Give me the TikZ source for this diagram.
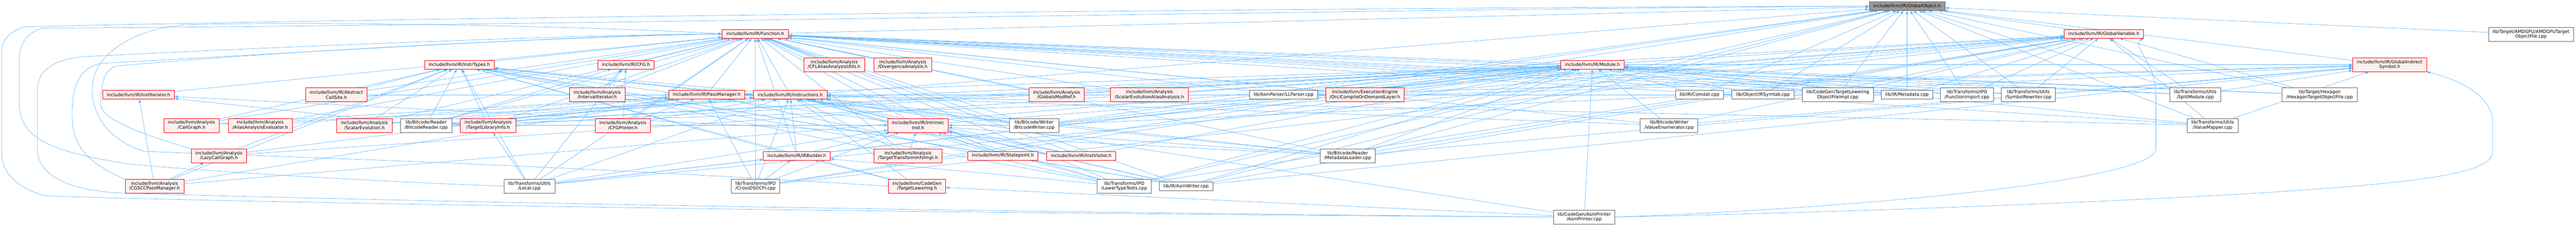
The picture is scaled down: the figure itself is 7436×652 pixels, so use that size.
\documentclass[tikz,border=0pt]{standalone}
\usepackage{fontspec}
\setmainfont{DejaVu Sans}
\usetikzlibrary{arrows.meta,backgrounds}
\definecolor{edgec}{HTML}{63B8FF}
\definecolor{redfill}{HTML}{FFF0F0}
\definecolor{rootfill}{HTML}{999999}
\definecolor{grayb}{HTML}{666666}
\tikzset{
  base/.style={draw, line width=1pt, inner xsep=12pt, inner ysep=2pt, align=center,
    font=\fontsize{12.87}{14.4}\selectfont, minimum height=25pt},
  trunc/.style={base, draw=red, fill=redfill},
  leaf/.style={base, draw=grayb, fill=white},
  root/.style={base, draw=grayb, fill=rootfill},
  two/.style={minimum height=40pt},
  edge/.style={draw=edgec, line width=1pt, -{Triangle[length=10pt,width=7pt]}}
}
\begin{document}
\begin{tikzpicture}[x=1pt,y=1pt]
\useasboundingbox (0,0) rectangle (7436,-652);
\node[root] (G) at (5505,-18) {include/llvm/IR/GlobalObject.h};
\node[trunc] (F) at (2180,-98) {include/llvm/IR/Function.h};
\node[trunc] (GV) at (6073,-98) {include/llvm/IR/GlobalVariable.h};
\node[leaf,two] (AMD) at (7306,-99) {lib/Target/AMDGPU/AMDGPUTarget\\ObjectFile.cpp};
\node[trunc] (IT) at (1326,-187) {include/llvm/IR/InstrTypes.h};
\node[trunc] (CFG) at (1807,-187) {include/llvm/IR/CFG.h};
\node[trunc,two] (CFL) at (2408,-187) {include/llvm/Analysis\\/CFLAliasAnalysisUtils.h};
\node[trunc,two] (DA) at (2606,-187) {include/llvm/Analysis\\/DivergenceAnalysis.h};
\node[trunc] (M) at (4597,-187) {include/llvm/IR/Module.h};
\node[trunc,two] (GIS) at (6898,-187) {include/llvm/IR/GlobalIndirect\\Symbol.h};
\node[trunc] (II) at (400,-274) {include/llvm/IR/InstIterator.h};
\node[trunc,two] (ACS) at (971,-274) {include/llvm/IR/Abstract\\CallSite.h};
\node[trunc,two] (IntI) at (1724,-274) {include/llvm/Analysis\\/IntervalIterator.h};
\node[trunc] (PM) at (2040,-274) {include/llvm/IR/PassManager.h};
\node[trunc] (Ins) at (2281,-274) {include/llvm/IR/Instructions.h};
\node[trunc,two] (GMR) at (3050,-274) {include/llvm/Analysis\\/GlobalsModRef.h};
\node[trunc,two] (SEAA) at (3318,-274) {include/llvm/Analysis\\/ScalarEvolutionAliasAnalysis.h};
\node[leaf] (LLP) at (3705,-274) {lib/AsmParser/LLParser.cpp};
\node[trunc,two] (COD) at (3940,-274) {include/llvm/ExecutionEngine\\/Orc/CompileOnDemandLayer.h};
\node[leaf] (Com) at (4906,-274) {lib/IR/Comdat.cpp};
\node[leaf] (IRS) at (5089,-274) {lib/Object/IRSymtab.cpp};
\node[leaf,two] (TLOF) at (5305,-274) {lib/CodeGen/TargetLowering\\ObjectFileImpl.cpp};
\node[leaf] (Meta) at (5505,-274) {lib/IR/Metadata.cpp};
\node[leaf,two] (FI) at (5678,-274) {lib/Transforms/IPO\\/FunctionImport.cpp};
\node[leaf,two] (SR) at (5855,-274) {lib/Transforms/Utils\\/SymbolRewriter.cpp};
\node[leaf,two] (SM) at (6337,-274) {lib/Transforms/Utils\\/SplitModule.cpp};
\node[leaf,two] (Hex) at (6696,-274) {lib/Target/Hexagon\\/HexagonTargetObjectFile.cpp};
\node[trunc,two] (CG) at (553,-362) {include/llvm/Analysis\\/CallGraph.h};
\node[trunc,two] (AAE) at (751,-362) {include/llvm/Analysis\\/AliasAnalysisEvaluator.h};
\node[trunc,two] (SE) at (1052,-362) {include/llvm/Analysis\\/ScalarEvolution.h};
\node[leaf,two] (BR) at (1230,-362) {lib/Bitcode/Reader\\/BitcodeReader.cpp};
\node[trunc,two] (TLI) at (1409,-362) {include/llvm/Analysis\\/TargetLibraryInfo.h};
\node[trunc,two] (CFGP) at (1798,-362) {include/llvm/Analysis\\/CFGPrinter.h};
\node[trunc,two] (IntrI) at (2650,-362) {include/llvm/IR/Intrinsic\\Inst.h};
\node[leaf,two] (BW) at (2985,-362) {lib/Bitcode/Writer\\/BitcodeWriter.cpp};
\node[leaf,two] (VE) at (4818,-362) {lib/Bitcode/Writer\\/ValueEnumerator.cpp};
\node[leaf,two] (VM) at (6387,-362) {lib/Transforms/Utils\\/ValueMapper.cpp};
\node[trunc,two] (LCG) at (632,-450) {include/llvm/Analysis\\/LazyCallGraph.h};
\node[trunc] (IRB) at (2300,-450) {include/llvm/IR/IRBuilder.h};
\node[trunc,two] (TTII) at (2621,-450) {include/llvm/Analysis\\/TargetTransformInfoImpl.h};
\node[trunc] (SP) at (2895,-450) {include/llvm/IR/Statepoint.h};
\node[trunc] (IV) at (3121,-450) {include/llvm/IR/InstVisitor.h};
\node[leaf,two] (ML) at (3890,-450) {lib/Bitcode/Reader\\/MetadataLoader.cpp};
\node[trunc,two] (CGSCC) at (446,-538) {include/llvm/Analysis\\/CGSCCPassManager.h};
\node[leaf,two] (Local) at (1528,-538) {lib/Transforms/Utils\\/Local.cpp};
\node[leaf,two] (CDC) at (2181,-538) {lib/Transforms/IPO\\/CrossDSOCFI.cpp};
\node[trunc,two] (TL) at (2647,-538) {include/llvm/CodeGen\\/TargetLowering.h};
\node[leaf,two] (LTT) at (3245,-538) {lib/Transforms/IPO\\/LowerTypeTests.cpp};
\node[leaf] (AW) at (3424,-538) {lib/IR/AsmWriter.cpp};
\node[leaf,two] (AP) at (4573,-627) {lib/CodeGen/AsmPrinter\\/AsmPrinter.cpp};
% routing points of the long connectors
\coordinate (l1a) at (133,-566); \coordinate (l1b) at (5,-440);
\coordinate (l1c) at (5,-150);   \coordinate (l1d) at (73,-77);
\coordinate (l2a) at (374,-474); \coordinate (l2b) at (56,-300);
\coordinate (l2c) at (56,-170);  \coordinate (l2d) at (125,-81);
\coordinate (l3a) at (333,-557); \coordinate (l3b) at (108,-430);
\coordinate (l3c) at (108,-260); \coordinate (l3d) at (237,-164);
\coordinate (l4a) at (208,-330); \coordinate (l4b) at (291,-183);
\coordinate (l5a) at (416,-437); \coordinate (l5b) at (266,-258);
\coordinate (l5c) at (541,-71);
\coordinate (l6a) at (291,-303); \coordinate (l6b) at (333,-191);
\coordinate (r1a) at (6700,-545); \coordinate (r1b) at (7195,-440);
\coordinate (r1c) at (7195,-350);
\coordinate (r2a) at (6223,-430); \coordinate (r2b) at (6223,-270);
\begin{pgfonlayer}{background}
\fill[white] (0,0) rectangle (7436,-652);
\foreach \s/\t in {F/G, GV/G, GIS/G, AMD/G,
 M/F, M/GV, M/GIS, IT/F, CFG/F, CFL/F, DA/F, II/F,
 ACS/F, ACS/IT, ACS/Ins, IntI/CFG, IntI/F, PM/F, PM/M, Ins/F, Ins/IT,
 GMR/F, GMR/M, GMR/PM, SEAA/F, SEAA/M, SEAA/PM,
 LLP/G, LLP/F, LLP/GV, LLP/GIS, LLP/M, LLP/Ins,
 COD/F, COD/M, COD/PM, Com/G, Com/M, IRS/G, IRS/M,
 TLOF/G, TLOF/F, TLOF/GV, TLOF/M,
 Meta/G, Meta/F, Meta/GV, Meta/M, Meta/Ins,
 FI/G, FI/F, FI/GV, FI/M, SR/G, SR/F, SR/GV, SR/M,
 SM/G, SM/F, SM/GV, SM/GIS, SM/M, Hex/G, Hex/F, Hex/GV, Hex/M,
 CG/F, CG/IT, CG/PM, CG/M, AAE/F, AAE/PM,
 SE/F, SE/IT, SE/Ins, SE/PM,
 BR/G, BR/F, BR/GV, BR/GIS, BR/M, BR/IT, BR/Ins, BR/II, BR/IntrI, BR/CFG,
 TLI/F, TLI/IT, TLI/M, TLI/PM, CFGP/CFG, CFGP/F, CFGP/Ins, CFGP/PM,
 IntrI/F, IntrI/Ins, IntrI/GV, IntrI/IT,
 BW/G, BW/F, BW/GV, BW/GIS, BW/M, BW/IT, BW/Ins, BW/IntrI,
 VE/F, VE/GV, VE/GIS, VE/M, VE/Ins,
 VM/G, VM/F, VM/GV, VM/GIS, VM/M, VM/Ins,
 LCG/PM, LCG/M, LCG/IT,
 IRB/F, IRB/Ins, IRB/IntrI, IRB/M, IRB/IT,
 TTII/F, TTII/IntrI, TTII/Ins, TTII/IT,
 SP/F, SP/Ins, SP/IntrI, SP/IT, IV/F, IV/Ins, IV/IntrI, IV/M,
 ML/G, ML/F, ML/GV, ML/GIS, ML/M, ML/II, ML/IT, ML/Ins, ML/IntrI,
 CGSCC/LCG, CGSCC/II, CGSCC/PM, CGSCC/IT, CGSCC/M,
 Local/CFG, Local/F, Local/IRB, Local/IT, Local/Ins, Local/IntrI, Local/M, Local/TLI, Local/GV,
 CDC/G, CDC/F, CDC/GV, CDC/IRB, CDC/Ins, CDC/IntrI, CDC/M, CDC/PM,
 TL/IRB, TL/IT, TL/Ins,
 LTT/G, LTT/F, LTT/GV, LTT/IRB, LTT/IT, LTT/Ins, LTT/IntrI, LTT/M, LTT/PM,
 AW/G, AW/F, AW/GV, AW/GIS, AW/M, AW/IT, AW/Ins, AW/IntrI, AW/SP,
 AP/M, AP/Ins, AP/TL}
 \draw[edge] (\s) -- (\t);
% long connectors routed round the left side
\draw[edge] (AP.west) .. controls (2500,-615) and (700,-585) .. (l1a)
  .. controls (50,-545) and (5,-500) .. (l1b) -- (l1c)
  .. controls (5,-110) and (35,-88) .. (l1d)
  .. controls (1500,-45) and (4200,-20) .. (G.west);
\draw[edge] (Local.west) .. controls (1000,-520) and (600,-495) .. (l2a)
  .. controls (150,-440) and (56,-400) .. (l2b) -- (l2c)
  .. controls (56,-120) and (85,-90) .. (l2d)
  .. controls (1500,-75) and (4000,-25) .. (G.west);
\draw[edge] (AP.west) .. controls (2500,-610) and (900,-575) .. (l3a)
  .. controls (180,-545) and (108,-500) .. (l3b) -- (l3c)
  .. controls (108,-200) and (160,-172) .. (l3d)
  .. controls (900,-130) and (1700,-100) .. (F.west);
\draw[edge] (CGSCC.north west) .. controls (250,-470) and (208,-420) .. (l4a)
  .. controls (208,-230) and (240,-195) .. (l4b)
  .. controls (900,-150) and (1700,-100) .. (F.west);
\draw[edge] (TL.west) .. controls (1500,-470) and (700,-450) .. (l5a)
  .. controls (300,-400) and (266,-320) .. (l5b)
  .. controls (266,-150) and (400,-80) .. (l5c)
  .. controls (1000,-60) and (1800,-80) .. (F.west);
\draw[edge] (LCG.north west) .. controls (450,-400) and (291,-350) .. (l6a)
  .. controls (291,-240) and (300,-205) .. (l6b)
  .. controls (900,-140) and (1700,-105) .. (F.west);
% long connectors routed round the right side
\draw[edge] (AP.east) .. controls (5500,-610) and (6400,-570) .. (r1a)
  .. controls (7050,-520) and (7195,-490) .. (r1b) -- (r1c)
  .. controls (7195,-280) and (7100,-230) .. (GIS.south east);
\draw[edge] (AP.east) .. controls (5400,-600) and (6223,-520) .. (r2a) -- (r2b)
  .. controls (6223,-180) and (6150,-130) .. (GV.south east);
\end{pgfonlayer}
\end{tikzpicture}
\end{document}
